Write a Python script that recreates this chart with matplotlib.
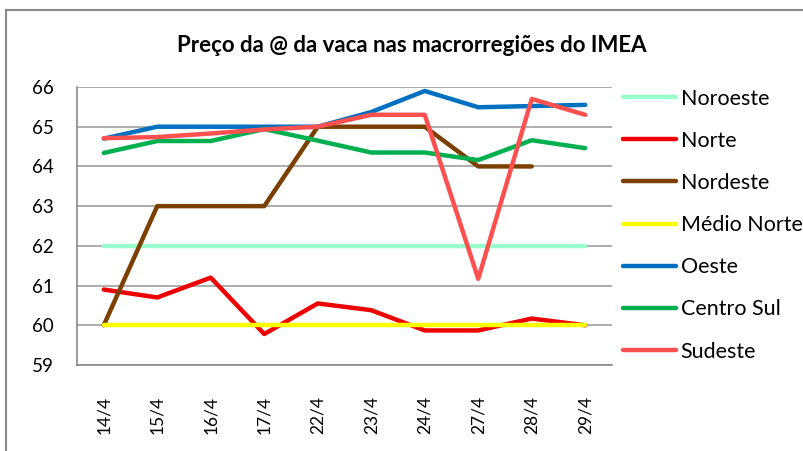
import numpy as np
import matplotlib
matplotlib.use("Agg")
import matplotlib.pyplot as plt
from matplotlib.lines import Line2D

# data
dates = ["14/4", "15/4", "16/4", "17/4", "22/4", "23/4", "24/4", "27/4", "28/4", "29/4"]

noroeste = [62, 62, 62, 62, 62, 62, 62, 62, 62, 62]
norte = [60.9, 60.7, 61.2, 59.78, 60.55, 60.38, 59.87, 59.87, 60.17, 60.0]
nordeste = [60, 63, 63, 63, 65, 65, 65, 64, 64, np.nan]
medio_norte = [60, 60, 60, 60, 60, 60, 60, 60, 60, 60]
oeste = [64.7, 65, 65, 65, 65, 65.37, 65.9, 65.49, 65.52, 65.55]
centro_sul = [64.34, 64.64, 64.64, 64.94, 64.65, 64.35, 64.35, 64.16, 64.66, 64.46]
sudeste = [64.71, 64.74, 64.83, 64.93, 65.0, 65.3, 65.3, 61.17, 65.7, 65.3]

series = [
    ("Noroeste", noroeste, "#99FFCC"),
    ("Norte", norte, "#EE0000"),
    ("Nordeste", nordeste, "#7B3F00"),
    ("Médio Norte", medio_norte, "#FFFF00"),
    ("Oeste", oeste, "#0070C0"),
    ("Centro Sul", centro_sul, "#00B050"),
    ("Sudeste", sudeste, "#FF5050"),
]

plt.rcParams['font.family'] = ['Lato', 'DejaVu Sans']

W, H = 804, 451
fig = plt.figure(figsize=(W / 100, H / 100), dpi=100)

# outer frame (left and top edges only visible)
fig.add_artist(Line2D([6 / W, 6 / W], [0, 1 - 10 / H], color="#888888", lw=1.5))
fig.add_artist(Line2D([6 / W, 1], [1 - 10 / H, 1 - 10 / H], color="#888888", lw=1.5))

left, right, top, bottom = 77, 612, 87, 365
ax = fig.add_axes([left / W, 1 - bottom / H, (right - left) / W, (bottom - top) / H])

x = np.arange(len(dates))
for name, vals, col in series:
    ax.plot(x, vals, color=col, lw=3.2, label=name, solid_capstyle="round")

ax.set_xlim(-0.5, len(dates) - 0.5)
ax.set_ylim(59, 66)
ax.set_yticks(range(59, 67))
ax.set_xticks(x)
ax.set_xticklabels(dates, rotation=90, fontsize=12.5)
ax.tick_params(axis="y", labelsize=13.5, length=0, pad=17)
ax.tick_params(axis="x", length=0, pad=22)
ax.yaxis.grid(True, color="#A0A0A0", lw=1.2)
ax.set_axisbelow(True)
for s in ["top", "right"]:
    ax.spines[s].set_visible(False)
for s in ["left", "bottom"]:
    ax.spines[s].set_color("#888888")
    ax.spines[s].set_linewidth(1.2)

fig.text(412 / W, 1 - 45 / H, "Preço da @ da vaca nas macrorregiões do IMEA",
         ha="center", va="center", fontsize=16, fontweight="bold")

ax.legend(loc="upper left", bbox_to_anchor=(614 / W, 1 - 80 / H),
          bbox_transform=fig.transFigure, frameon=False, fontsize=15.5,
          handlelength=2.5, handletextpad=0.2, labelspacing=1.03, borderaxespad=0)

fig.savefig("out.png", dpi=100)
